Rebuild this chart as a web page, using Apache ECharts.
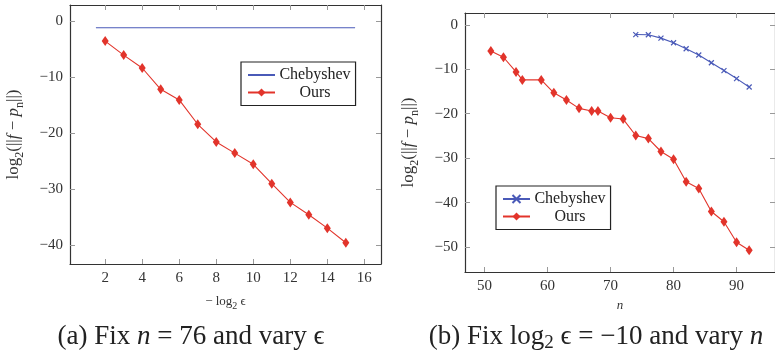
<!DOCTYPE html>
<html>
<head>
<meta charset="utf-8">
<script src="https://cdn.jsdelivr.net/npm/echarts@6/dist/echarts.min.js"></script>
<style>
  html, body { margin: 0; padding: 0; background: #fff; }
  #chart { width: 775px; height: 350px; }
</style>
</head>
<body>
<div id="chart"></div>
<script>
// (a) fix n = 76, vary eps
const epsA = [2, 3, 4, 5, 6, 7, 8, 9, 10, 11, 12, 13, 14, 15];
const oursA = [-3.6, -6.1, -8.4, -12.2, -14.1, -18.45, -21.6, -23.6, -25.6, -29.05, -32.4, -34.6, -37.0, -39.6];
const chebDomainA = [1.5, 15.5];
const chebA = [-1.2, -1.2];
const xTicksA = [2, 4, 6, 8, 10, 12, 14, 16];
const yTicksA = [0, -10, -20, -30, -40];

// (b) fix log2 eps = -10, vary n
const nOurs = [51, 53, 55, 56, 59, 61, 63, 65, 67, 68, 70, 72, 74, 76, 78, 80, 82, 84, 86, 88, 90, 92];
const oursB = [-5.9, -7.3, -10.6, -12.4, -12.4, -15.3, -16.9, -18.8, -19.4, -19.4, -20.9, -21.2, -24.9, -25.6, -28.5, -30.25, -35.3, -36.8, -42.0, -44.3, -48.9, -50.7];
const nCheb = [74, 76, 78, 80, 82, 84, 86, 88, 90, 92];
const chebB = [-2.2, -2.25, -3.0, -4.05, -5.4, -6.8, -8.55, -10.3, -12.1, -14.0];
const xTicksB = [50, 60, 70, 80, 90];
const yTicksB = [0, -10, -20, -30, -40, -50];

const RED = '#e2342b';
const BLUE = '#4a5ab8';
const FONT = 'Liberation Serif';

const zip = (xs, ys) => xs.map((x, i) => [x, ys[i]]);
const minus = (v) => String(v).replace('-', '\u2212');

const chart = echarts.init(document.getElementById('chart'));

// axis helper: frame side with inward ticks, labels only on bottom/left
function makeAxis(gridIndex, pos, min, max, ticks, withLabel, extra) {
  return Object.assign({
    type: 'value',
    gridIndex,
    position: pos,
    min,
    max,
    splitLine: { show: false },
    axisLine: { show: true, onZero: false, lineStyle: { color: '#333', width: 1.2 } },
    axisTick: { show: true, inside: true, length: 5, customValues: ticks, lineStyle: { color: '#999' } },
    axisLabel: {
      show: withLabel,
      customValues: ticks,
      formatter: minus,
      color: '#333',
      fontFamily: FONT,
      fontSize: 15,
      margin: 7,
    },
  }, extra || {});
}

// rich styles: r = roman, i = italic, s = subscript
function richSet(size, sub, lh, color, drop) {
  const base = { fontFamily: FONT, fontWeight: 'normal', color, lineHeight: lh, verticalAlign: 'bottom' };
  return {
    r: Object.assign({ fontSize: size }, base),
    i: Object.assign({ fontSize: size, fontStyle: 'italic' }, base),
    s: Object.assign({ fontSize: sub, padding: [0, 0, -drop, 0] }, base),
  };
}

const yName = '{r|log}{s|2}{r|(||}{i|f}{r| \u2212 }{i|p}{s|n}{r|||)}';
const nameRich = richSet(17, 12, 20, '#333', 4);
const smallRich = richSet(13, 10, 15, '#333', 3);
const capRich = richSet(27, 19, 30, '#222', 3);

const legendBase = {
  orient: 'vertical',
  backgroundColor: '#fff',
  borderColor: '#222',
  borderWidth: 1.2,
  borderRadius: 0,
  itemWidth: 27,
  itemHeight: 10,
  itemGap: 1.5,
  padding: [5, 5, 5, 6],
  selectedMode: false,
  formatter: (name) => '{c|' + name.replace(' (b)', '') + '}',
  textStyle: {
    rich: { c: { fontFamily: FONT, fontSize: 16, color: '#222', width: 70, align: 'center', lineHeight: 17 } },
  },
};

const option = {
  animation: false,
  backgroundColor: '#fff',
  title: [
    {
      text: '{r|(a) Fix }{i|n}{r| = 76 and vary \u03f5}',
      left: 191, top: 320, textAlign: 'center', padding: 0,
      textStyle: { fontWeight: 'normal', rich: capRich },
    },
    {
      text: '{r|(b) Fix log}{s|2}{r| \u03f5 = \u221210 and vary }{i|n}',
      left: 596, top: 320, textAlign: 'center', padding: 0,
      textStyle: { fontWeight: 'normal', rich: capRich },
    },
  ],
  legend: [
    Object.assign({}, legendBase, {
      data: [{ name: 'Chebyshev', itemStyle: { opacity: 0 } }, 'Ours'],
      left: 241, top: 62,
    }),
    Object.assign({}, legendBase, { data: ['Chebyshev (b)', 'Ours (b)'], left: 496, top: 186 }),
  ],
  grid: [
    { left: 70, top: 5, width: 311, height: 259 },
    { left: 465, top: 13, width: 310, height: 259 },
  ],
  xAxis: [
    makeAxis(0, 'bottom', 0.1, 16.9, xTicksA, true, {
      name: '{r|\u2212 log}{s|2}{r| \u03f5}',
      nameLocation: 'middle',
      nameGap: 29,
      nameTextStyle: { rich: smallRich },
    }),
    makeAxis(0, 'top', 0.1, 16.9, xTicksA, false),
    makeAxis(1, 'bottom', 46.9, 96.1, xTicksB, true, {
      name: '{i|n}',
      nameLocation: 'middle',
      nameGap: 25,
      nameTextStyle: { rich: smallRich },
    }),
    makeAxis(1, 'top', 46.9, 96.1, xTicksB, false),
  ],
  yAxis: [
    makeAxis(0, 'left', -43.4, 2.85, yTicksA, true, {
      name: yName,
      nameLocation: 'middle',
      nameRotate: 90,
      nameGap: 48,
      nameTextStyle: { rich: nameRich },
    }),
    makeAxis(0, 'right', -43.4, 2.85, yTicksA, false),
    makeAxis(1, 'left', -55.6, 2.65, yTicksB, true, {
      name: yName,
      nameLocation: 'middle',
      nameRotate: 90,
      nameGap: 48,
      nameTextStyle: { rich: nameRich },
    }),
    makeAxis(1, 'right', -55.6, 2.65, yTicksB, false),
  ],
  series: [
    {
      name: 'Chebyshev',
      type: 'line',
      xAxisIndex: 0, yAxisIndex: 0,
      data: zip(chebDomainA, chebA),
      symbol: 'none',
      lineStyle: { color: BLUE, width: 1.1 },
      itemStyle: { color: BLUE },
    },
    {
      name: 'Ours',
      type: 'line',
      xAxisIndex: 0, yAxisIndex: 0,
      data: zip(epsA, oursA),
      symbol: 'diamond',
      symbolSize: [7, 10],
      lineStyle: { color: RED, width: 1.1 },
      itemStyle: { color: RED },
    },
    {
      name: 'Chebyshev (b)',
      type: 'line',
      xAxisIndex: 2, yAxisIndex: 2,
      data: zip(nCheb, chebB),
      symbol: 'path://M0,0L10,10M10,0L0,10',
      symbolSize: 5,
      lineStyle: { color: BLUE, width: 1.1 },
      itemStyle: { color: BLUE, borderColor: BLUE, borderWidth: 1.2 },
    },
    {
      name: 'Ours (b)',
      type: 'line',
      xAxisIndex: 2, yAxisIndex: 2,
      data: zip(nOurs, oursB),
      symbol: 'diamond',
      symbolSize: [7, 10],
      lineStyle: { color: RED, width: 1.1 },
      itemStyle: { color: RED },
    },
  ],
};

chart.setOption(option);
</script>
</body>
</html>
